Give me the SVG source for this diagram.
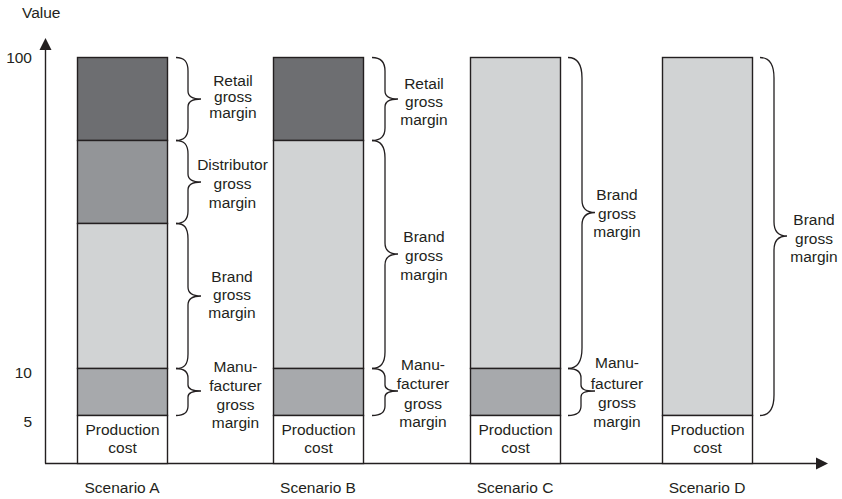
<svg xmlns="http://www.w3.org/2000/svg" width="842" height="499" viewBox="0 0 842 499">
  <style>
    text { font-family: "Liberation Sans", Arial, Helvetica, sans-serif; font-size: 15.5px; fill: #231f20; }
    .c { text-anchor: middle; }
    .r { text-anchor: end; }
    .seg { stroke: #231f20; stroke-width: 1.4; }
    .retail { fill: #6d6e71; }
    .dist { fill: #939598; }
    .brand { fill: #d1d3d4; }
    .manu { fill: #a7a9ac; }
    .prod { fill: #ffffff; }
    .brace { fill: none; stroke: #231f20; stroke-width: 1.3; }
    .axis { stroke: #231f20; stroke-width: 1.4; fill: none; }
  </style>

  <rect width="842" height="499" fill="#ffffff"/>

  <!-- axes -->
  <g id="axes">
    <line class="axis" x1="45.5" y1="463.5" x2="45.5" y2="48"/>
    <polygon points="45.5,38 39.5,50 51.5,50" fill="#231f20"/>
    <line class="axis" x1="45" y1="463.5" x2="818" y2="463.5"/>
    <polygon points="828,463.5 816,457.5 816,469.5" fill="#231f20"/>
    <text x="22" y="18">Value</text>
    <text class="r" x="32" y="63">100</text>
    <text class="r" x="32" y="378">10</text>
    <text class="r" x="32" y="427">5</text>
  </g>

  <!-- Scenario A -->
  <g id="barA">
    <rect class="seg retail" x="77.5" y="57.5" width="90" height="83"/>
    <rect class="seg dist" x="77.5" y="140.5" width="90" height="83"/>
    <rect class="seg brand" x="77.5" y="223.5" width="90" height="145"/>
    <rect class="seg manu" x="77.5" y="368.5" width="90" height="47"/>
    <rect class="seg prod" x="77.5" y="415.5" width="90" height="48"/>
    <text class="c" x="122.5"><tspan x="122.5" y="435">Production</tspan><tspan x="122.5" y="453">cost</tspan></text>
    <text class="c" x="122" y="493">Scenario A</text>
  </g>

  <!-- Scenario B -->
  <g id="barB">
    <rect class="seg retail" x="273.5" y="57.5" width="90" height="83"/>
    <rect class="seg brand" x="273.5" y="140.5" width="90" height="228"/>
    <rect class="seg manu" x="273.5" y="368.5" width="90" height="47"/>
    <rect class="seg prod" x="273.5" y="415.5" width="90" height="48"/>
    <text class="c" x="318.5"><tspan x="318.5" y="435">Production</tspan><tspan x="318.5" y="453">cost</tspan></text>
    <text class="c" x="318" y="493">Scenario B</text>
  </g>

  <!-- Scenario C -->
  <g id="barC">
    <rect class="seg brand" x="470.5" y="57.5" width="90" height="311"/>
    <rect class="seg manu" x="470.5" y="368.5" width="90" height="47"/>
    <rect class="seg prod" x="470.5" y="415.5" width="90" height="48"/>
    <text class="c" x="515.5"><tspan x="515.5" y="435">Production</tspan><tspan x="515.5" y="453">cost</tspan></text>
    <text class="c" x="515" y="493">Scenario C</text>
  </g>

  <!-- Scenario D -->
  <g id="barD">
    <rect class="seg brand" x="662.5" y="57.5" width="90" height="358"/>
    <rect class="seg prod" x="662.5" y="415.5" width="90" height="48"/>
    <text class="c" x="707.5"><tspan x="707.5" y="435">Production</tspan><tspan x="707.5" y="453">cost</tspan></text>
    <text class="c" x="707" y="493">Scenario D</text>
  </g>

  <!-- braces marking each margin band -->
  <g id="braces">
    <!-- A: retail 57-140 -->
    <path class="brace" d="M176,57.5 C184,57.5 188,61 188,71 L188,91 C188,96 191,99 201,99 C191,99 188,102 188,107 L188,128 C188,137 184,140.5 176,140.5"/>
    <!-- A: distributor 140-223 -->
    <path class="brace" d="M176,140.5 C184,140.5 188,144 188,154 L188,174 C188,179 191,182 201,182 C191,182 188,185 188,190 L188,211 C188,220 184,223.5 176,223.5"/>
    <!-- A: brand 223-368 -->
    <path class="brace" d="M176,223.5 C184,223.5 188,227 188,239 L188,287 C188,292 191,296 201,296 C191,296 188,300 188,305 L188,354 C188,365 184,368.5 176,368.5"/>
    <!-- A: manufacturer 368-415 -->
    <path class="brace" d="M176,368.5 C184,368.5 188,371 188,378 L188,385 C188,389 191,391 201,391 C191,391 188,393 188,397 L188,406 C188,413 184,415.5 176,415.5"/>

    <!-- B: retail 57-140 -->
    <path class="brace" d="M372,57.5 C380,57.5 385,61 385,71 L385,91 C385,96 388,99 398,99 C388,99 385,102 385,107 L385,128 C385,137 380,140.5 372,140.5"/>
    <!-- B: brand 140-368 -->
    <path class="brace" d="M372,140.5 C380,140.5 385,145 385,158 L385,243 C385,249 388,254 398,254 C388,254 385,259 385,265 L385,352 C385,364 380,368.5 372,368.5"/>
    <!-- B: manufacturer 368-415 -->
    <path class="brace" d="M372,368.5 C380,368.5 385,371 385,378 L385,385 C385,389 388,391 398,391 C388,391 385,393 385,397 L385,406 C385,413 380,415.5 372,415.5"/>

    <!-- C: brand 57-368 -->
    <path class="brace" d="M568,57.5 C577,57.5 582,63 582,78 L582,200 C582,207 585,212.5 595,212.5 C585,212.5 582,218 582,225 L582,348 C582,363 577,368.5 568,368.5"/>
    <!-- C: manufacturer 368-415 -->
    <path class="brace" d="M568,368.5 C576,368.5 581,371 581,378 L581,385 C581,389 584,391 595,391 C584,391 581,393 581,397 L581,406 C581,413 576,415.5 568,415.5"/>

    <!-- D: brand 57-415 -->
    <path class="brace" d="M760,57.5 C769,57.5 774,63 774,78 L774,222 C774,230 777,236 787,236 C777,236 774,242 774,250 L774,395 C774,410 769,415.5 760,415.5"/>
  </g>

  <!-- margin labels -->
  <g id="labelA-retail">
    <text class="c"><tspan x="233" y="86">Retail</tspan><tspan x="233" y="102">gross</tspan><tspan x="233" y="118">margin</tspan></text>
  </g>
  <g id="labelA-distributor">
    <text class="c"><tspan x="232.5" y="170">Distributor</tspan><tspan x="232.5" y="189">gross</tspan><tspan x="232.5" y="208">margin</tspan></text>
  </g>
  <g id="labelA-brand">
    <text class="c"><tspan x="232" y="282">Brand</tspan><tspan x="232" y="300">gross</tspan><tspan x="232" y="318">margin</tspan></text>
  </g>
  <g id="labelA-manu">
    <text class="c"><tspan x="235.5" y="372">Manu-</tspan><tspan x="235.5" y="391">facturer</tspan><tspan x="235.5" y="410">gross</tspan><tspan x="235.5" y="428">margin</tspan></text>
  </g>
  <g id="labelB-retail">
    <text class="c"><tspan x="424" y="89">Retail</tspan><tspan x="424" y="107">gross</tspan><tspan x="424" y="125">margin</tspan></text>
  </g>
  <g id="labelB-brand">
    <text class="c"><tspan x="424" y="242">Brand</tspan><tspan x="424" y="261">gross</tspan><tspan x="424" y="280">margin</tspan></text>
  </g>
  <g id="labelB-manu">
    <text class="c"><tspan x="423" y="370">Manu-</tspan><tspan x="423" y="389">facturer</tspan><tspan x="423" y="409">gross</tspan><tspan x="423" y="427">margin</tspan></text>
  </g>
  <g id="labelC-brand">
    <text class="c"><tspan x="617" y="200">Brand</tspan><tspan x="617" y="219">gross</tspan><tspan x="617" y="237">margin</tspan></text>
  </g>
  <g id="labelC-manu">
    <text class="c"><tspan x="617" y="368">Manu-</tspan><tspan x="617" y="389">facturer</tspan><tspan x="617" y="408">gross</tspan><tspan x="617" y="427">margin</tspan></text>
  </g>
  <g id="labelD-brand">
    <text class="c"><tspan x="814" y="225">Brand</tspan><tspan x="814" y="244">gross</tspan><tspan x="814" y="262">margin</tspan></text>
  </g>
</svg>
